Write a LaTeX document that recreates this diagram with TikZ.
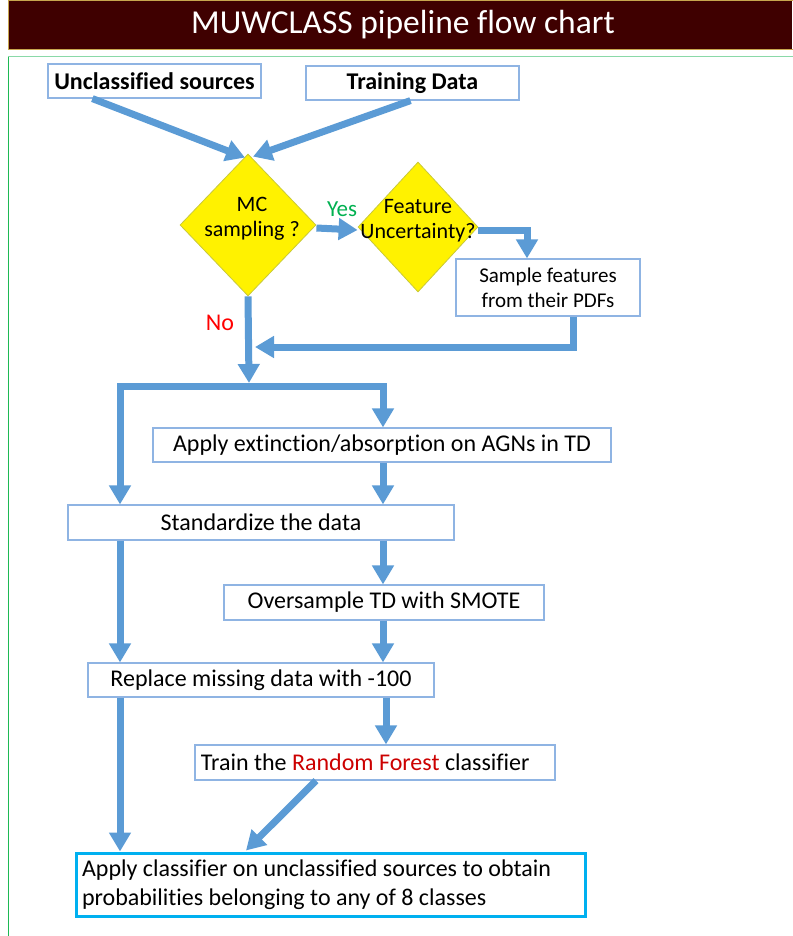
\documentclass[tikz,border=0pt]{standalone}
\usepackage{fontspec}
\setmainfont{Carlito}[Ligatures={NoCommon}]
\usetikzlibrary{arrows.meta,shapes.geometric,calc}
\definecolor{arrblue}{HTML}{5B9BD5}
\definecolor{boxline}{HTML}{8FB4E3}
\definecolor{maroon}{HTML}{3F0000}
\definecolor{goldb}{HTML}{C8A64E}
\definecolor{lgreen}{HTML}{8AD9A8}
\definecolor{dgreen}{HTML}{1DB954}
\definecolor{cyanb}{HTML}{00B0F0}
\definecolor{yesgreen}{HTML}{00B050}
\definecolor{diaborder}{HTML}{C9C93A}
\tikzset{
  txt/.style={font=\fontsize{24}{28}\selectfont},
  box/.style={draw=boxline, line width=1.2pt, fill=white, inner sep=0pt, txt},
  dia/.style={diamond, draw=diaborder, line width=0.8pt, fill=yellow, inner sep=0pt},
  arr/.style={draw=arrblue, line width=7pt, -{Triangle[length=19pt,width=21pt]}},
  ln/.style={draw=arrblue, line width=7pt},
}
\begin{document}
\begin{tikzpicture}[x=1pt,y=-1pt]
\useasboundingbox (0,0) rectangle (792,936);
% title bar
\fill[maroon] (8,0) rectangle (792,50);
\draw[goldb, line width=1pt] (8,-2) -- (8,50) -- (794,50);
\draw[goldb, line width=1pt] (8,0.5) -- (794,0.5);
\node[text=white, font=\fontsize{33.5}{38}\selectfont] (title) at (403,25) {MUWCLASS pipeline flow chart};
% green frame
\draw[lgreen, line width=1pt] (8,57) -- (794,57);
\draw[dgreen, line width=1pt] (8,57) -- (8,938);
% nodes
\node[box, minimum width=213, minimum height=34, font=\fontsize{24}{28}\selectfont\bfseries] (u) at (154.5,81) {Unclassified sources};
\node[box, minimum width=213, minimum height=34, font=\fontsize{24}{28}\selectfont\bfseries] (t) at (412.5,83) {Training Data};
\node[dia, minimum width=136, minimum height=142] (mc) at (248,225) {};
\node[font=\fontsize{22}{25}\selectfont, align=center] (mct) at (252,219) {MC\\sampling ?};
\node[dia, minimum width=120, minimum height=130] (fu) at (418,227) {};
\node[font=\fontsize{22}{25}\selectfont, align=center] (fut) at (418,221) {Feature\\Uncertainty?};
\node[box, minimum width=184, minimum height=57, align=center, font=\fontsize{21}{25}\selectfont] (s) at (548,287.5) {Sample features\\from their PDFs};
\node[font=\fontsize{23}{26}\selectfont, text=yesgreen] (yes) at (342,209) {Yes};
\node[txt, text=red] (no) at (220,323) {No};
\node[box, minimum width=458, minimum height=34] (ext) at (382,445) {Apply extinction/absorption on AGNs in TD};
\node[box, minimum width=386, minimum height=35] (std) at (261,522.5) {Standardize the data};
\node[box, minimum width=320, minimum height=35] (ovs) at (384,602.5) {Oversample TD with SMOTE};
\node[box, minimum width=346, minimum height=34] (rep) at (261,680) {Replace missing data with -100};
\node[box, minimum width=360, minimum height=35] (rf) at (375,762.5) {};
\node[txt, anchor=west] (rft) at ($(rf.west)+(3,0)$) {Train the \textcolor{red!80!black}{Random Forest} classifier};
\node[draw=cyanb, line width=3pt, minimum width=509, minimum height=63, inner sep=0pt] (fin) at (330.5,884.5) {};
\node[txt, anchor=west, align=left, font=\fontsize{24}{29}\selectfont] (fint) at ($(fin.west)+(4,0)$) {Apply classifier on unclassified sources to obtain\\probabilities belonging to any of 8 classes};
% junction coordinates
\coordinate (j) at (249,386);
\coordinate (jl) at (120,386);
\coordinate (jr) at (383,386);
% connectors
\draw[arr] ($(u.south west)+(45,0)$) -- ($(mc.north)+(-3,4)$);
\draw[arr] ($(t.south)+(-2,0)$) -- ($(mc.north)+(5,3)$);
\draw[arr] ($(mc.east)+(0,3)$) -- ($(fu.west)+(0,3)$);
\draw[arr] ($(fu.east)+(0,3)$) -| (s.north -| 527,0);
\draw[arr] (s.south -| 573,0) |- (255,347);
\draw[arr] (mc.south) -- ($(j)+(0,-3)$);
\draw[ln, line cap=rect] (jl) -- (jr);
\draw[arr] (jr) -- (ext.north -| jr);
\draw[arr] (jl) -- (std.north -| jl);
\draw[arr] (ext.south -| jr) -- (std.north -| jr);
\draw[arr] (std.south -| jr) -- (ovs.north -| jr);
\draw[arr] (std.south -| jl) -- (rep.north -| jl);
\draw[arr] (ovs.south -| jr) -- (rep.north -| jr);
\draw[arr] (rep.south -| 386,0) -- (rf.north -| 386,0);
\draw[arr] (rep.south -| jl) -- (fin.north -| jl);
\draw[arr] (rf.south -| 316,0) -- ($(fin.north -| 246,0)+(0,-1)$);
\end{tikzpicture}
\end{document}
